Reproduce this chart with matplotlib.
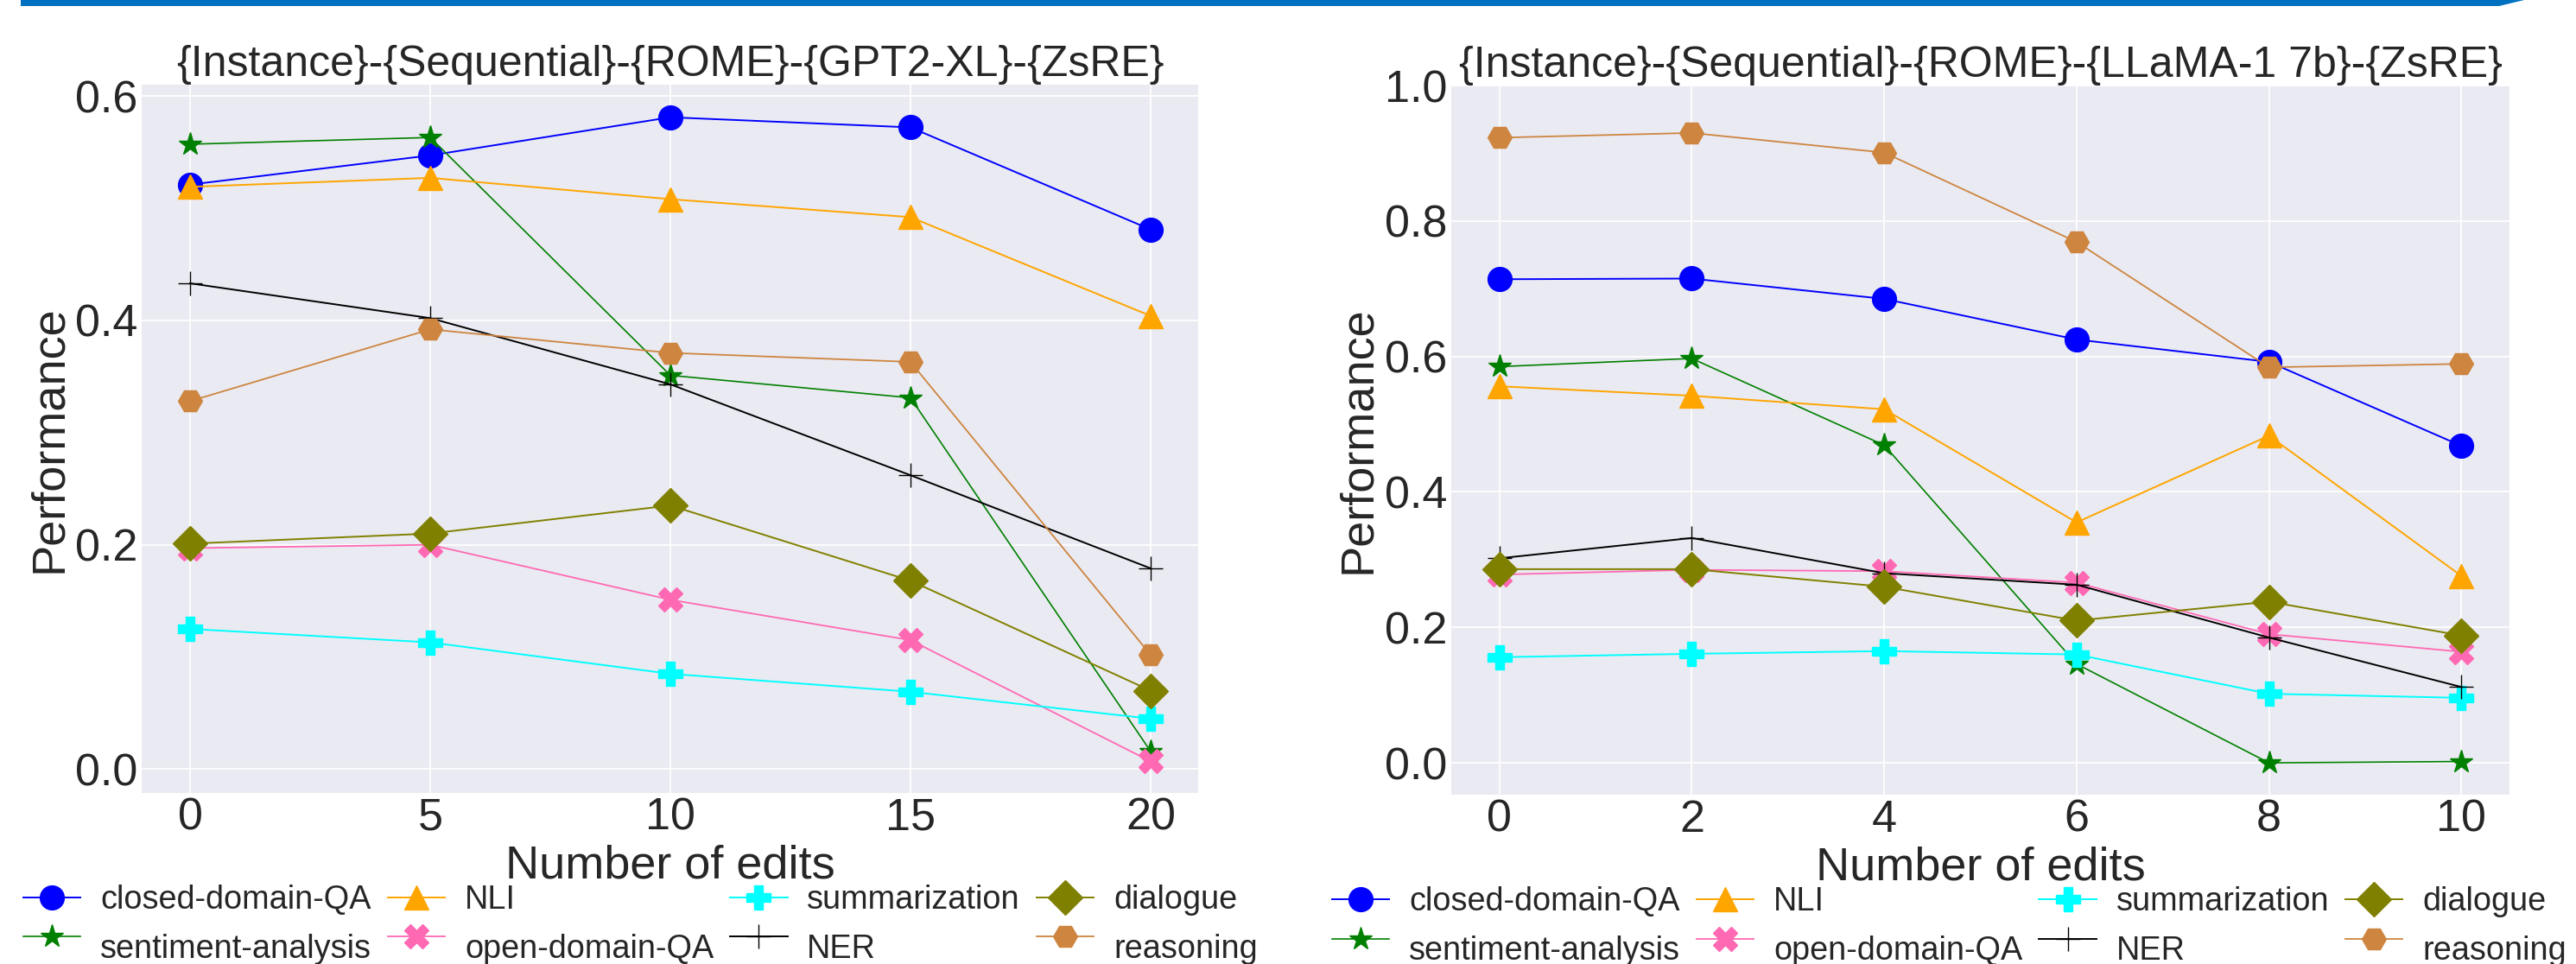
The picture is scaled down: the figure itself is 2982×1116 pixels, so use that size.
import numpy as np
import matplotlib.pyplot as plt
from matplotlib.patches import Polygon

# task names, in the order they are plotted (legend fills column by column)
tasks = ["closed-domain-QA", "sentiment-analysis", "NLI", "open-domain-QA",
         "summarization", "NER", "dialogue", "reasoning"]
colors = ["blue", "green", "orange", "hotpink", "cyan", "black", "olive", "peru"]
markers = ["o", "*", "^", "X", "P", "+", "D", "H"]
widths = [1.4, 1.2, 1.4, 1.3, 1.4, 1.4, 1.4, 1.3]

# left panel: GPT2-XL
gpt2_edits = [0, 5, 10, 15, 20]
gpt2_closed_qa = [0.521, 0.547, 0.581, 0.572, 0.481]
gpt2_sentiment = [0.557, 0.563, 0.351, 0.331, 0.016]
gpt2_nli = [0.519, 0.527, 0.508, 0.492, 0.404]
gpt2_open_qa = [0.197, 0.200, 0.151, 0.115, 0.007]
gpt2_summ = [0.125, 0.113, 0.085, 0.069, 0.045]
gpt2_ner = [0.433, 0.402, 0.343, 0.262, 0.179]
gpt2_dialogue = [0.201, 0.210, 0.235, 0.168, 0.070]
gpt2_reasoning = [0.328, 0.392, 0.371, 0.363, 0.102]

# right panel: LLaMA-1 7b
llama_edits = [0, 2, 4, 6, 8, 10]
llama_closed_qa = [0.714, 0.715, 0.685, 0.625, 0.592, 0.468]
llama_sentiment = [0.585, 0.597, 0.469, 0.146, 0.000, 0.002]
llama_nli = [0.556, 0.542, 0.522, 0.355, 0.483, 0.276]
llama_open_qa = [0.278, 0.285, 0.283, 0.266, 0.190, 0.164]
llama_summ = [0.156, 0.161, 0.165, 0.160, 0.102, 0.096]
llama_ner = [0.302, 0.332, 0.280, 0.263, 0.185, 0.112]
llama_dialogue = [0.286, 0.286, 0.260, 0.210, 0.238, 0.188]
llama_reasoning = [0.923, 0.930, 0.901, 0.769, 0.584, 0.589]

plt.rcParams["font.family"] = ["Liberation Sans", "DejaVu Sans"]
plt.rcParams.update({
    "axes.facecolor": "#EAEAF2",
    "axes.edgecolor": "white",
    "axes.grid": True,
    "axes.axisbelow": True,
    "grid.color": "white",
    "grid.linewidth": 1.3,
    "text.color": ".15",
    "axes.labelcolor": ".15",
    "xtick.color": ".15",
    "ytick.color": ".15",
    "xtick.major.size": 0,
    "ytick.major.size": 0,
})

fig = plt.figure(figsize=(29.82, 11.16), dpi=100)

# slide header strip along the top edge
fig.patches.append(Polygon([[24 / 2982, 1.0], [2922 / 2982, 1.0],
                            [2893 / 2982, 1 - 7 / 1116], [24 / 2982, 1 - 7 / 1116]],
                           closed=True, transform=fig.transFigure,
                           facecolor="#0070C0", edgecolor="none"))

ax1 = fig.add_axes([0.05516, 0.17742, 0.41013, 0.73503])
ax2 = fig.add_axes([0.56338, 0.17563, 0.41080, 0.73566])


def draw_panel(ax, edits, series, title, xticks, yticks, ylim, xlim):
    for name, vals, c, m, lw in zip(tasks, series, colors, markers, widths):
        ax.plot(edits, vals, color=c, marker=m, markersize=20, linewidth=lw,
                label=name)
    for s in ax.spines.values():
        s.set_visible(False)
    ax.set_xlim(*xlim)
    ax.set_ylim(*ylim)
    ax.set_xticks(xticks)
    ax.set_yticks(yticks)
    ax.tick_params(labelsize=37.5)
    ax.set_title(title, fontsize=36)
    ax.set_xlabel("Number of edits", fontsize=39)
    ax.set_ylabel("Performance", fontsize=39)
    leg = ax.legend(loc="upper left", bbox_to_anchor=(-0.125, -0.111), ncol=4,
                    frameon=False, fontsize=27.3, handlelength=1.75,
                    handletextpad=0.6, columnspacing=0.5, labelspacing=0.25,
                    borderaxespad=0)
    # second-row labels sit a little below their markers in the original
    for t in leg.get_texts()[1::2]:
        t.set_y(-11)


draw_panel(ax1, gpt2_edits,
           [gpt2_closed_qa, gpt2_sentiment, gpt2_nli, gpt2_open_qa,
            gpt2_summ, gpt2_ner, gpt2_dialogue, gpt2_reasoning],
           "{Instance}-{Sequential}-{ROME}-{GPT2-XL}-{ZsRE}",
           [0, 5, 10, 15, 20], [0.0, 0.2, 0.4, 0.6], (-0.0212, 0.6103), (-1, 21))

draw_panel(ax2, llama_edits,
           [llama_closed_qa, llama_sentiment, llama_nli, llama_open_qa,
            llama_summ, llama_ner, llama_dialogue, llama_reasoning],
           "{Instance}-{Sequential}-{ROME}-{LLaMA-1 7b}-{ZsRE}",
           [0, 2, 4, 6, 8, 10], [0.0, 0.2, 0.4, 0.6, 0.8, 1.0], (-0.047, 1.0), (-0.5, 10.5))

fig.savefig("out.png", dpi=100)
